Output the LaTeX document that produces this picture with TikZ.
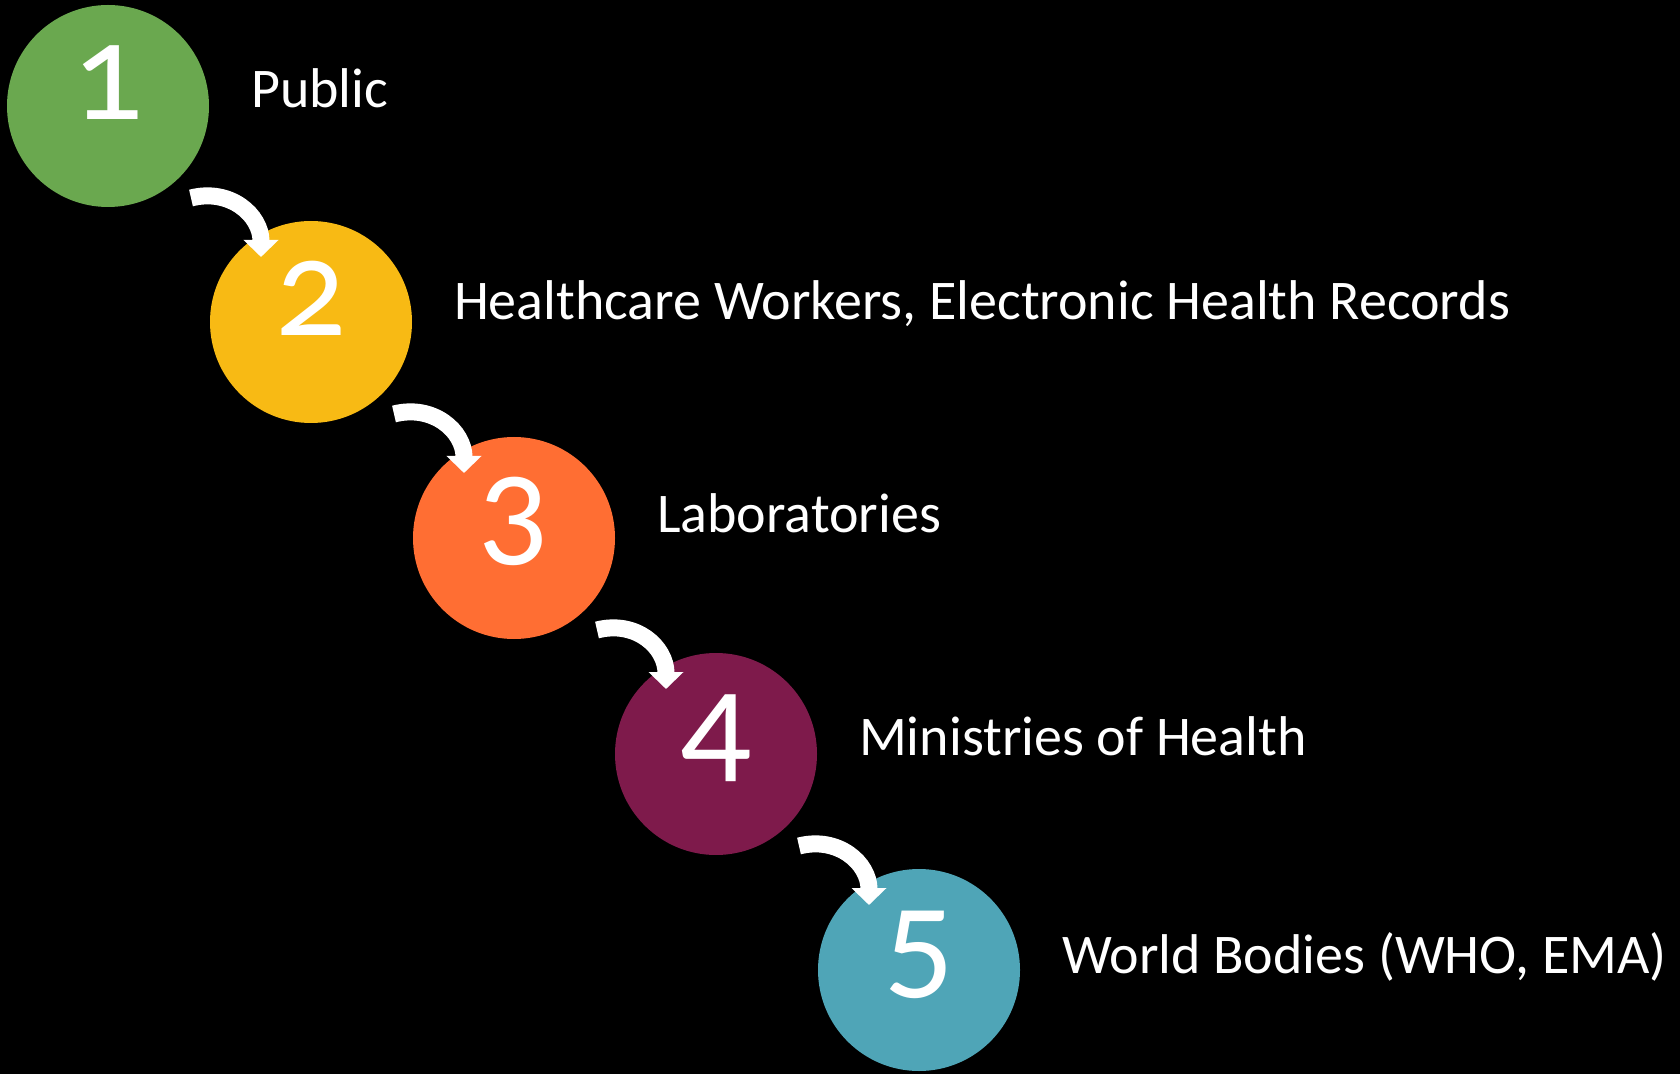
\documentclass[tikz,border=0pt]{standalone}
\usepackage{fontspec}
\setmainfont{Carlito}
\newfontfamily\numfont[Numbers=OldStyle]{Carlito}
\usetikzlibrary{arrows.meta,calc}
\definecolor{greenS}{HTML}{6AA84F}
\definecolor{yellowS}{HTML}{F8BA14}
\definecolor{orangeS}{HTML}{FF6E33}
\definecolor{plumS}{HTML}{7E1A4B}
\definecolor{tealS}{HTML}{4FA5B7}
\tikzset{
  disc/.style={circle,minimum size=101pt,inner sep=0pt,fill=#1},
  num/.style={anchor=base,text=white,font=\numfont\fontsize{70}{70}\selectfont},
  lbl/.style={anchor=base west,text=white,font=\fontsize{28}{30}\selectfont},
  flow/.style={white,line width=8.5pt,-{Triangle[width=17pt,length=8.5pt]}}
}
\begin{document}
\begin{tikzpicture}[x=0.5pt,y=-0.5pt]
          \fill[black] (0,0) rectangle (1680,1074);
          \useasboundingbox (0,0) rectangle (1680,1074);
          \node[disc=greenS] (c1) at (108,106) {};
          \node[disc=yellowS] (c2) at (311,322) {};
          \node[disc=orangeS] (c3) at (514,538) {};
          \node[disc=plumS] (c4) at (716,754) {};
          \node[disc=tealS] (c5) at (919,970) {};
          \node[num] (n1) at ($(c1)+(0,14)$) {1};
          \node[num] (n2) at ($(c2)+(0,14)$) {2};
          \node[num] (n3) at ($(c3)+(0,14)$) {3};
          \node[num] (n4) at ($(c4)+(0,14)$) {4};
          \node[num] (n5) at ($(c5)+(0,14)$) {5};
          \node[lbl] (l1) at ($(c1)+(136,2)$) {Public};
          \node[lbl] (l2) at ($(c2)+(136,-2)$) {Healthcare Workers, Electronic Health Records};
          \node[lbl] (l3) at ($(c3)+(136,-6)$) {Laboratories};
          \node[lbl] (l4) at ($(c4)+(136,1)$) {Ministries of Health};
          \node[lbl] (l5) at ($(c5)+(136,3)$) {World Bodies (WHO, EMA)};
          \draw[flow] ($(c1)+(83,92)$) .. controls +(39,-10) and +(0,-42) .. ($(c2)+(-50,-65)$);
          \draw[flow] ($(c2)+(83,92)$) .. controls +(39,-10) and +(0,-42) .. ($(c3)+(-50,-65)$);
          \draw[flow] ($(c3)+(83,92)$) .. controls +(39,-10) and +(0,-42) .. ($(c4)+(-50,-65)$);
          \draw[flow] ($(c4)+(83,92)$) .. controls +(39,-10) and +(0,-42) .. ($(c5)+(-50,-65)$);
        \end{tikzpicture}
\end{document}
